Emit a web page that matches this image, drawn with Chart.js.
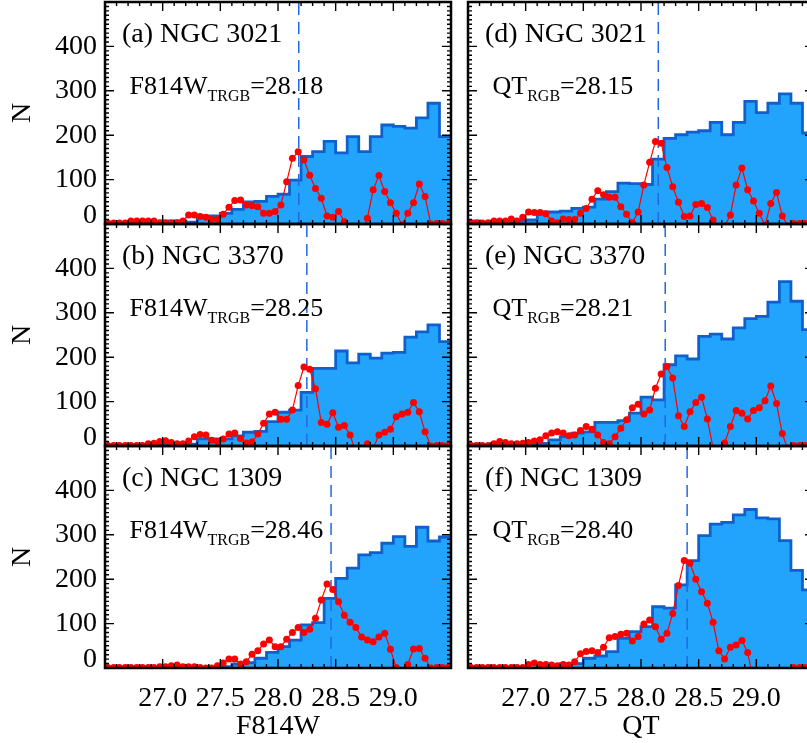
<!DOCTYPE html>
<html>
<head>
<meta charset="utf-8">
<title>TRGB luminosity functions</title>
<script src="https://cdn.jsdelivr.net/npm/chart.js@4.4.1/dist/chart.umd.min.js"></script>
<style>
  html, body { margin: 0; padding: 0; background: #fff; overflow: hidden; }
  #page { position: relative; width: 807px; height: 743px; overflow: hidden; background: #fff; }
  #page canvas { position: absolute; left: 0; top: 0; width: 830px; height: 743px; }
</style>
</head>
<body>
<div id="page">
  <canvas id="panel0" width="830" height="743"></canvas>
  <canvas id="panel1" width="830" height="743"></canvas>
  <canvas id="panel2" width="830" height="743"></canvas>
  <canvas id="panel3" width="830" height="743"></canvas>
  <canvas id="panel4" width="830" height="743"></canvas>
  <canvas id="panel5" width="830" height="743"></canvas>
</div>
<script>
// ── DATA ──
// left edges of the 0.1 mag histogram bins (+ closing edge)
const histEdges = [26.5, 26.6, 26.7, 26.8, 26.9, 27.0, 27.1, 27.2, 27.3, 27.4,
                   27.5, 27.6, 27.7, 27.8, 27.9, 28.0, 28.1, 28.2, 28.3, 28.4,
                   28.5, 28.6, 28.7, 28.8, 28.9, 29.0, 29.1, 29.2, 29.3, 29.4, 29.5];
// magnitudes of the edge-detection response points
const sobelMags = [26.525, 26.575, 26.625, 26.675, 26.725, 26.775, 26.825, 26.875, 26.925, 26.975,
                   27.025, 27.075, 27.125, 27.175, 27.225, 27.275, 27.325, 27.375, 27.425, 27.475,
                   27.525, 27.575, 27.625, 27.675, 27.725, 27.775, 27.825, 27.875, 27.925, 27.975,
                   28.025, 28.075, 28.125, 28.175, 28.225, 28.275, 28.325, 28.375, 28.425, 28.475,
                   28.525, 28.575, 28.625, 28.675, 28.725, 28.775, 28.825, 28.875, 28.925, 28.975,
                   29.025, 29.075, 29.125, 29.175, 29.225, 29.275, 29.325, 29.375, 29.425, 29.475];

// star counts per bin
const histA = [0, 0, 0, 0, 0, 7, 7, 4, 18, 18, 24, 33, 50, 51, 62, 67, 99, 152, 163, 186, 160, 197, 163, 197, 223, 220, 216, 239, 272, 197];
const histB = [0, 0, 0, 0, 2, 4, 4, 4, 16, 16, 16, 23, 31, 33, 55, 76, 81, 121, 175, 175, 214, 187, 207, 198, 209, 211, 245, 257, 273, 235];
const histC = [0, 0, 0, 0, 0, 0, 0, 0, 0, 0, 3, 9, 12, 22, 35, 48, 63, 97, 102, 157, 202, 225, 255, 260, 281, 296, 274, 317, 286, 295];
const histD = [7, 3, 3, 5, 7, 9, 27, 27, 29, 35, 38, 56, 73, 92, 91, 89, 146, 193, 201, 207, 210, 229, 201, 229, 276, 251, 272, 293, 272, 205];
const histE = [4, 2, 0, 0, 2, 4, 6, 14, 21, 29, 32, 53, 53, 57, 74, 110, 104, 183, 203, 196, 247, 252, 241, 266, 287, 292, 324, 370, 326, 262];
const histF = [0, 0, 0, 0, 0, 0, 2, 4, 10, 10, 22, 27, 37, 67, 82, 93, 138, 135, 187, 242, 298, 324, 328, 345, 357, 338, 336, 287, 220, 176];

// edge-detection response (negative values fall below the axis)
const sobelA = [2, 2, 2, 2, 7, 7, 7, 7, 7, 3, 2, 2, 3, 7, 20, 20, 17, 15, 10, 10, 22, 38, 53, 54, 43, 41, 39, 24, 24, 28,
                43, 95, 148, 163, 144, 110, 80, 58, 18, 15, 28, 5, -20, -40, -15, 13, 77, 109, 73, 48, 24, -2, 24, 48, 90, 62, 0, 1, 1, 1];
const sobelB = [1, 1, 1, 1, 1, 1, 1, 5, 6, 10, 12, 8, 5, 5, 11, 21, 26, 25, 13, 10, 16, 27, 29, 17, 7, 9, 27, 51, 72, 76,
                60, 60, 81, 136, 178, 173, 129, 53, 49, 75, 42, 46, 25, -15, -15, 5, -5, 25, 31, 38, 66, 72, 76, 98, 77, 32, 0, 1, 1, 1];
const sobelC = [1, 1, 1, 1, 1, 1, 1, 1, 1, 3, 3, 5, 7, 3, 3, 3, 1, 0, 0, 5, 11, 20, 20, 9, 14, 31, 39, 54, 63, 48,
                48, 65, 80, 91, 80, 87, 112, 153, 189, 177, 149, 119, 103, 91, 70, 63, 59, 70, 78, 42, 1, -10, 8, 43, 44, 22, 0, 1, 1, 1];
const sobelD = [2, 2, 2, 3, 7, 7, 7, 11, 7, 15, 27, 26, 26, 23, 7, 3, 11, 10, 10, 24, 35, 56, 75, 66, 60, 60, 39, 22, 3, 27,
                88, 139, 186, 182, 127, 84, 49, 17, 18, 44, 46, 37, 9, -10, -5, 20, 88, 126, 77, 52, 24, -3, 46, 71, 18, -5, 1, 1, 1, 1];
const sobelE = [1, 1, 1, 1, 5, 10, 8, 5, 5, 6, 8, 11, 14, 23, 29, 32, 29, 23, 25, 35, 44, 38, 25, 8, 5, 21, 40, 59, 86, 94,
                72, 81, 130, 162, 179, 153, 68, 44, 77, 98, 110, 61, -5, -10, 7, 44, 80, 74, 61, 80, 86, 102, 135, 96, 28, -10, 1, 1, 1, 1];
const sobelF = [1, 1, 1, 1, 1, 1, 1, 1, 1, 1, 8, 11, 8, 8, 7, 5, 8, 7, 14, 32, 37, 39, 35, 47, 68, 71, 76, 78, 61, 71,
                99, 108, 93, 65, 78, 123, 186, 242, 236, 200, 172, 146, 103, 39, 20, 47, 52, 62, 35, -30, -40, -30, -20, -20, -15, -10, 1, 1, 1, 1];

const panelLetters  = ['a', 'b', 'c', 'd', 'e', 'f'];
const galaxyNames   = ['NGC 3021', 'NGC 3370', 'NGC 1309', 'NGC 3021', 'NGC 3370', 'NGC 1309'];
const bandNames     = ['F814W', 'F814W', 'F814W', 'QT', 'QT', 'QT'];
const tipSubscripts = ['TRGB', 'TRGB', 'TRGB', 'RGB', 'RGB', 'RGB'];
const tipMags       = [28.18, 28.25, 28.46, 28.15, 28.21, 28.40];
const tipLabels     = ['28.18', '28.25', '28.46', '28.15', '28.21', '28.40'];

const xTickValues = [27.0, 27.5, 28.0, 28.5, 29.0];
const xTickLabels = ['27.0', '27.5', '28.0', '28.5', '29.0'];
const yTickValues = [0, 100, 200, 300, 400];
const yTickLabels = ['0', '100', '200', '300', '400'];

const histSeries  = [histA, histB, histC, histD, histE, histF];
const sobelSeries = [sobelA, sobelB, sobelC, sobelD, sobelE, sobelF];

// ── LAYOUT / STYLE ──
const CANVAS_W = 830, CANVAS_H = 743;
const colLeft = [105, 468], colRight = [451, 814];
const rowTop = [2, 224, 446], rowBottom = [224, 446, 668];
const ZERO_LABEL_LIFT = 18;   // IDL lifts the bottom "0" label off the panel edge
const SERIF = '"Liberation Serif", "DejaVu Serif", serif';
const RED = '#ff0000', FILL = '#22a4fc', EDGE = '#0f60cc', DASH = '#2168e6';

Chart.defaults.font.family = SERIF;
Chart.defaults.color = '#000';

// fixed axis box, no extra label padding pushed into the layout
function fixBox(w, h) {
    return (s) => {
        if (w !== null) s.width = w;
        if (h !== null) s.height = h;
        s.paddingTop = s.paddingBottom = s.paddingLeft = s.paddingRight = 0;
    };
}

// ── IDL STYLE FRAME WITH INWARD TICKS ──
const idlFrame = {
    id: 'idlFrame',
    afterDatasetsDraw(chart) {
        const { ctx, chartArea: a, scales: { x, y } } = chart;
        ctx.save();
        ctx.strokeStyle = '#000';
        ctx.lineWidth = 1.4;
        ctx.beginPath();
        for (let v = 0; v <= 500; v += 10) {
            const py = y.getPixelForValue(v);
            const len = v % 100 === 0 ? 9 : 4;
            ctx.moveTo(a.left, py);  ctx.lineTo(a.left + len, py);
            ctx.moveTo(a.right, py); ctx.lineTo(a.right - len, py);
        }
        for (let i = 0; i <= 30; i++) {
            const px = x.getPixelForValue(26.5 + i * 0.1);
            const len = i % 5 === 0 ? 9 : 4;
            ctx.moveTo(px, a.bottom); ctx.lineTo(px, a.bottom - len);
            ctx.moveTo(px, a.top);    ctx.lineTo(px, a.top + len);
        }
        ctx.stroke();
        ctx.lineWidth = 2.5;
        ctx.strokeRect(a.left, a.top, a.right - a.left, a.bottom - a.top);
        ctx.restore();
    }
};

// ── PANEL LABELS ──
const panelText = {
    id: 'panelText',
    afterDraw(chart, args, opts) {
        const { ctx, chartArea: a } = chart;
        ctx.save();
        ctx.fillStyle = '#000';
        ctx.textBaseline = 'alphabetic';
        ctx.textAlign = 'left';
        ctx.font = '28px ' + SERIF;
        ctx.fillText(opts.title, a.left + 17, a.top + 39.5);

        let tx = a.left + 24.5;
        ctx.font = '26px ' + SERIF;
        ctx.fillText(opts.band, tx, a.top + 92);
        tx += ctx.measureText(opts.band).width;
        ctx.font = '16px ' + SERIF;
        ctx.fillText(opts.sub, tx, a.top + 98.5);
        tx += ctx.measureText(opts.sub).width;
        ctx.font = '26px ' + SERIF;
        ctx.fillText('=' + opts.value, tx, a.top + 92);
        ctx.restore();
    }
};

function makePanel(i) {
    const col = Math.floor(i / 3), row = i % 3;
    const isLeft = col === 0, isBottom = row === 2;
    const hist = histSeries[i];

    const histPts = hist.map((v, k) => ({ x: histEdges[k], y: v }));
    histPts.push({ x: histEdges[hist.length], y: hist[hist.length - 1] });
    const sobelPts = sobelSeries[i].map((v, k) => ({ x: sobelMags[k], y: v }));

    const yAxisW = isLeft ? colLeft[0] : 0;
    const xAxisH = isBottom ? CANVAS_H - rowBottom[row] : 0;

    new Chart(document.getElementById('panel' + i), {
        type: 'line',
        data: {
            datasets: [
                {
                    label: 'edge response',
                    data: sobelPts,
                    borderColor: RED,
                    backgroundColor: RED,
                    borderWidth: 1.2,
                    pointRadius: 3.5,
                    pointBorderWidth: 0,
                    pointBackgroundColor: RED,
                    tension: 0
                },
                {
                    label: 'tip',
                    data: [{ x: tipMags[i], y: 0 }, { x: tipMags[i], y: 500 }],
                    borderColor: DASH,
                    borderWidth: 1.5,
                    borderDash: [12, 7],
                    pointRadius: 0
                },
                {
                    label: 'luminosity function',
                    data: histPts,
                    stepped: 'before',
                    borderColor: EDGE,
                    borderWidth: 2.8,
                    backgroundColor: FILL,
                    fill: 'origin',
                    pointRadius: 0
                }
            ]
        },
        options: {
            responsive: false,
            animation: false,
            events: [],
            layout: {
                autoPadding: false,
                padding: {
                    left: colLeft[col] - yAxisW,
                    right: CANVAS_W - colRight[col],
                    top: rowTop[row],
                    bottom: CANVAS_H - rowBottom[row] - xAxisH
                }
            },
            plugins: {
                legend: { display: false },
                tooltip: { enabled: false },
                panelText: {
                    title: '(' + panelLetters[i] + ') ' + galaxyNames[i],
                    band: bandNames[i],
                    sub: tipSubscripts[i],
                    value: tipLabels[i]
                }
            },
            scales: {
                x: {
                    type: 'linear',
                    min: 26.5,
                    max: 29.5,
                    display: isBottom,
                    grid: { display: false, drawTicks: false },
                    border: { display: false },
                    afterBuildTicks: (s) => { s.ticks = xTickValues.map(v => ({ value: v })); },
                    afterFit: fixBox(null, xAxisH),
                    ticks: {
                        autoSkip: false,
                        maxRotation: 0,
                        padding: 14,
                        font: { size: 28, family: SERIF },
                        callback: (v, idx) => xTickLabels[idx]
                    },
                    title: {
                        display: true,
                        text: bandNames[i],
                        font: { size: 28, family: SERIF, lineHeight: 1 },
                        padding: { top: 0, bottom: 2 }
                    }
                },
                y: {
                    type: 'linear',
                    min: 0,
                    max: 500,
                    display: isLeft,
                    grid: { display: false, drawTicks: false },
                    border: { display: false },
                    afterBuildTicks: (s) => {
                        s.ticks = yTickValues.map(v => ({ value: v === 0 ? ZERO_LABEL_LIFT : v }));
                    },
                    afterFit: fixBox(yAxisW, null),
                    ticks: {
                        padding: 8,
                        font: { size: 28, family: SERIF },
                        callback: (v, idx) => yTickLabels[idx]
                    },
                    title: {
                        display: true,
                        text: 'N',
                        font: { size: 28, family: SERIF, lineHeight: 1 },
                        padding: { top: 9, bottom: 0 }
                    }
                }
            }
        },
        plugins: [idlFrame, panelText]
    });
}

window.addEventListener('load', () => {
    for (let i = 0; i < 6; i++) makePanel(i);
});
</script>
</body>
</html>
